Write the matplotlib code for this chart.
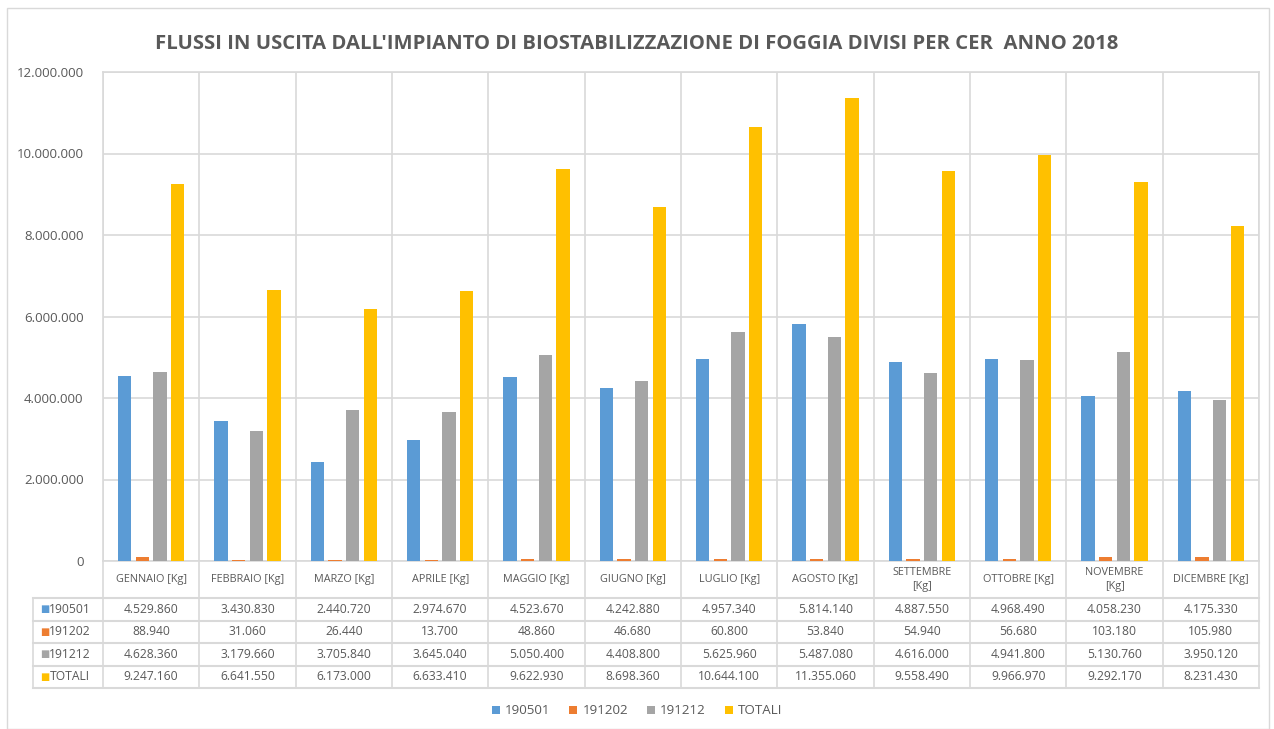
import matplotlib.pyplot as plt
import numpy as np
from matplotlib.patches import Rectangle

plt.rcParams['font.family'] = ['Open Sans', 'DejaVu Sans']

# dati
mesi = ['GENNAIO [Kg]', 'FEBBRAIO [Kg]', 'MARZO [Kg]', 'APRILE [Kg]', 'MAGGIO [Kg]',
        'GIUGNO [Kg]', 'LUGLIO [Kg]', 'AGOSTO [Kg]', 'SETTEMBRE\n[Kg]', 'OTTOBRE [Kg]',
        'NOVEMBRE\n[Kg]', 'DICEMBRE [Kg]']
serie = ['190501', '191202', '191212', 'TOTALI']
v190501 = [4529860, 3430830, 2440720, 2974670, 4523670, 4242880, 4957340, 5814140,
           4887550, 4968490, 4058230, 4175330]
v191202 = [88940, 31060, 26440, 13700, 48860, 46680, 60800, 53840, 54940, 56680,
           103180, 105980]
v191212 = [4628360, 3179660, 3705840, 3645040, 5050400, 4408800, 5625960, 5487080,
           4616000, 4941800, 5130760, 3950120]
totali = [9247160, 6641550, 6173000, 6633410, 9622930, 8698360, 10644100, 11355060,
          9558490, 9966970, 9292170, 8231430]
valori = [v190501, v191202, v191212, totali]
colori = ['#5B9BD5', '#ED7D31', '#A5A5A5', '#FFC000']

grid_c = '#D9D9D9'
txt_c = '#595959'

def fmt(v):
    return f'{v:,}'.replace(',', '.')

W, H = 1274, 729
fig = plt.figure(figsize=(W / 100, H / 100), dpi=100)

# riquadro esterno
fig.add_artist(Rectangle((7 / W, 0), (1269 - 7) / W, (729 - 8) / H, transform=fig.transFigure,
                         fill=False, edgecolor=grid_c, linewidth=1))

x0, x1, ytop, ybot = 103, 1259, 72, 561
ax = fig.add_axes([x0 / W, (H - ybot) / H, (x1 - x0) / W, (ybot - ytop) / H])

n = len(mesi)
x = np.arange(n)
passo = 0.184
larg = 0.14
for k, (vals, col) in enumerate(zip(valori, colori)):
    ax.bar(x + (k - 1.5) * passo, vals, width=larg, color=col, label=serie[k], zorder=3)

ax.set_xlim(-0.5, n - 0.5)
ax.set_ylim(0, 12000000)
ax.set_yticks(np.arange(0, 12000001, 2000000))
ax.set_yticklabels([fmt(int(t)) for t in ax.get_yticks()], color=txt_c, fontsize=9.5)
ax.set_xticks([])
ax.set_xticks(np.arange(-0.5, n), minor=True)
ax.tick_params(axis='both', which='both', length=0, pad=14)
ax.grid(axis='y', color=grid_c, linewidth=1.2, zorder=0)
ax.grid(axis='x', which='minor', color=grid_c, linewidth=1.2, zorder=0)
for s in ax.spines.values():
    s.set_color(grid_c)
    s.set_linewidth(1.2)

# titolo
fig.text(0.5, (H - 44) / H, "FLUSSI IN USCITA DALL'IMPIANTO DI BIOSTABILIZZAZIONE DI FOGGIA DIVISI PER CER  ANNO 2018",
         ha='center', va='center', fontsize=14.6, fontweight='bold', color=txt_c)

# tabella dati
t_left, t_bot = 33, 690
cat_px = (x1 - x0) / n
lab_w = (x0 - t_left) / cat_px
tax = fig.add_axes([t_left / W, (H - t_bot) / H, (x1 - t_left) / W, (t_bot - ybot) / H])
tax.set_xlim(-0.5 - lab_w, n - 0.5)
tax.set_ylim(t_bot - ybot, 0)
tax.axis('off')

righe = [0, 37, 59.5, 82, 104.5, 127]
# linee orizzontali
for yy in righe[1:]:
    tax.plot([-0.5 - lab_w, n - 0.5], [yy, yy], color=grid_c, lw=1.5, clip_on=False)
# linee verticali
for b in np.arange(-0.5, n):
    tax.plot([b, b], [0, righe[-1]], color=grid_c, lw=1.2, clip_on=False)
tax.plot([-0.5 - lab_w] * 2, [righe[1], righe[-1]], color=grid_c, lw=1.2, clip_on=False)

for i, m in enumerate(mesi):
    tax.text(i, righe[1] / 2, m, ha='center', va='center', fontsize=7.8, color=txt_c,
             linespacing=1.4)
for r, (nome, vals, col) in enumerate(zip(serie, valori, colori)):
    yc = (righe[r + 1] + righe[r + 2]) / 2
    tax.text(-0.5 - lab_w + 0.07, yc, '■', ha='left', va='center', fontsize=7, color=col,
             family=['DejaVu Sans'])
    tax.text(-0.5 - lab_w + 0.17, yc, nome, ha='left', va='center', fontsize=8.7, color=txt_c)
    for i, v in enumerate(vals):
        tax.text(i, yc, fmt(v), ha='center', va='center', fontsize=8.7, color=txt_c)

# legenda
fig.legend(loc='center', bbox_to_anchor=(0.5, (H - 711) / H), ncol=4, frameon=False,
           fontsize=9.6, handlelength=0.6, handleheight=0.6, handletextpad=0.4,
           columnspacing=1.4, labelcolor=txt_c)

fig.savefig('out.png', dpi=100)
